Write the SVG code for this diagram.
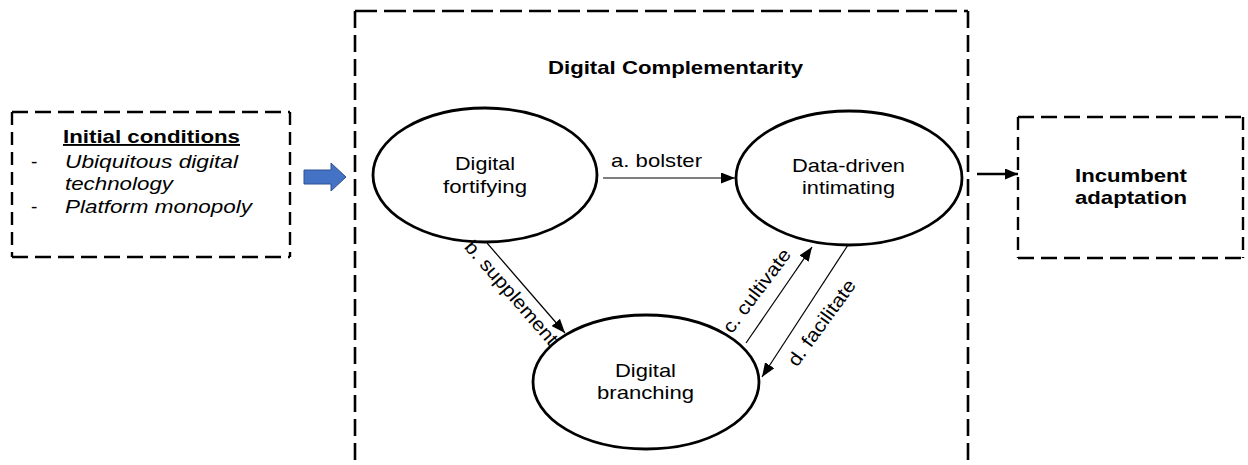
<svg xmlns="http://www.w3.org/2000/svg" width="1248" height="465" viewBox="0 0 1248 465">
  <style>
    text { font-family: "Liberation Sans", Arial, Helvetica, sans-serif; font-size: 19px; fill: #000; }
    .b { font-weight: bold; }
    .i { font-style: italic; }
    .frame-h { fill: none; stroke: #000; stroke-width: 2.4; stroke-dasharray: 16 7; }
    .frame-v { fill: none; stroke: #000; stroke-width: 2.4; stroke-dasharray: 13 7; }
    .outer-h { fill: none; stroke: #000; stroke-width: 2.6; stroke-dasharray: 22 7; }
    .outer-v { fill: none; stroke: #000; stroke-width: 2.6; stroke-dasharray: 17 7; }
    .node { fill: #fff; stroke: #000; stroke-width: 2.8; }
    .link { fill: none; stroke: #000; stroke-width: 1.2; }
    .link-bold { fill: none; stroke: #000; stroke-width: 2.6; }
  </style>
  <defs>
    <marker id="head" markerUnits="userSpaceOnUse" markerWidth="14" markerHeight="11" refX="14" refY="5.5" orient="auto">
      <path d="M0,0 L14,5.5 L0,11 z" fill="#000"/>
    </marker>
    <marker id="head-bold" markerUnits="userSpaceOnUse" markerWidth="13" markerHeight="11" refX="13" refY="5.5" orient="auto">
      <path d="M0,0 L13,5.5 L0,11 z" fill="#000"/>
    </marker>
  </defs>

  <rect width="1248" height="465" fill="#fff"/>

  <!-- Left frame: initial conditions -->
  <g id="initial-conditions">
    <line class="frame-h" x1="12" y1="112" x2="290" y2="112"/>
    <line class="frame-h" x1="12" y1="257" x2="290" y2="257"/>
    <line class="frame-v" x1="12" y1="112" x2="12" y2="257"/>
    <line class="frame-v" x1="290" y1="112" x2="290" y2="257"/>
    <text class="b" x="63" y="143" textLength="177" lengthAdjust="spacingAndGlyphs" text-decoration="underline">Initial conditions</text>
    <text x="31" y="168">-</text>
    <text class="i" x="65" y="168" textLength="173" lengthAdjust="spacingAndGlyphs">Ubiquitous digital</text>
    <text class="i" x="65" y="190" textLength="108" lengthAdjust="spacingAndGlyphs">technology</text>
    <text x="31" y="213">-</text>
    <text class="i" x="65" y="213" textLength="187" lengthAdjust="spacingAndGlyphs">Platform monopoly</text>
  </g>

  <!-- Block arrow into the central frame -->
  <g id="entry-arrow">
    <polygon points="304,170 331,170 331,163 346,177 331,191 331,184 304,184" fill="#4472C4" stroke="#2F528F" stroke-width="1"/>
  </g>

  <!-- Central frame: digital complementarity (open at the bottom) -->
  <g id="digital-complementarity">
    <line class="outer-h" x1="355" y1="11" x2="968" y2="11"/>
    <line class="outer-v" x1="355" y1="11" x2="355" y2="470"/>
    <line class="outer-v" x1="968" y1="11" x2="968" y2="470"/>
    <text class="b" x="548" y="74" textLength="255" lengthAdjust="spacingAndGlyphs">Digital Complementarity</text>
  </g>

  <g id="digital-fortifying">
    <ellipse class="node" cx="485" cy="175" rx="112" ry="67"/>
    <text x="455" y="170" textLength="60" lengthAdjust="spacingAndGlyphs">Digital</text>
    <text x="443" y="193" textLength="84" lengthAdjust="spacingAndGlyphs">fortifying</text>
  </g>

  <g id="data-driven-intimating">
    <ellipse class="node" cx="849" cy="178" rx="113" ry="67"/>
    <text x="792" y="172" textLength="113" lengthAdjust="spacingAndGlyphs">Data-driven</text>
    <text x="802" y="194" textLength="93" lengthAdjust="spacingAndGlyphs">intimating</text>
  </g>

  <g id="digital-branching">
    <ellipse class="node" cx="646" cy="382" rx="113" ry="67"/>
    <text x="615" y="377" textLength="61" lengthAdjust="spacingAndGlyphs">Digital</text>
    <text x="597" y="399" textLength="97" lengthAdjust="spacingAndGlyphs">branching</text>
  </g>

  <!-- Right frame: outcome -->
  <g id="incumbent-adaptation">
    <line class="frame-h" x1="1018" y1="117" x2="1243" y2="117"/>
    <line class="frame-h" x1="1018" y1="258" x2="1243" y2="258"/>
    <line class="frame-v" x1="1018" y1="117" x2="1018" y2="258"/>
    <line class="frame-v" x1="1243" y1="117" x2="1243" y2="258"/>
    <text class="b" x="1075" y="182" textLength="112" lengthAdjust="spacingAndGlyphs">Incumbent</text>
    <text class="b" x="1075" y="204" textLength="112" lengthAdjust="spacingAndGlyphs">adaptation</text>
  </g>

  <!-- Connectors -->
  <g id="connectors">
    <line class="link" x1="603" y1="178" x2="735" y2="178" marker-end="url(#head)"/>
    <text x="611" y="167" textLength="91" lengthAdjust="spacingAndGlyphs">a. bolster</text>

    <line class="link" x1="487" y1="243" x2="565" y2="333" marker-end="url(#head)"/>
    <text transform="translate(511,293) rotate(49)" x="-65.5" y="6" textLength="131" lengthAdjust="spacingAndGlyphs">b. supplement</text>

    <line class="link" x1="746" y1="343" x2="812" y2="247" marker-end="url(#head)"/>
    <text transform="translate(757,291) rotate(-53)" x="-50" y="6" textLength="100" lengthAdjust="spacingAndGlyphs">c. cultivate</text>

    <line class="link" x1="848" y1="245" x2="762" y2="377" marker-end="url(#head)"/>
    <text transform="translate(822,323) rotate(-54)" x="-51" y="6" textLength="102" lengthAdjust="spacingAndGlyphs">d. facilitate</text>

    <line class="link-bold" x1="977" y1="174" x2="1018" y2="174" marker-end="url(#head-bold)"/>
  </g>
</svg>
